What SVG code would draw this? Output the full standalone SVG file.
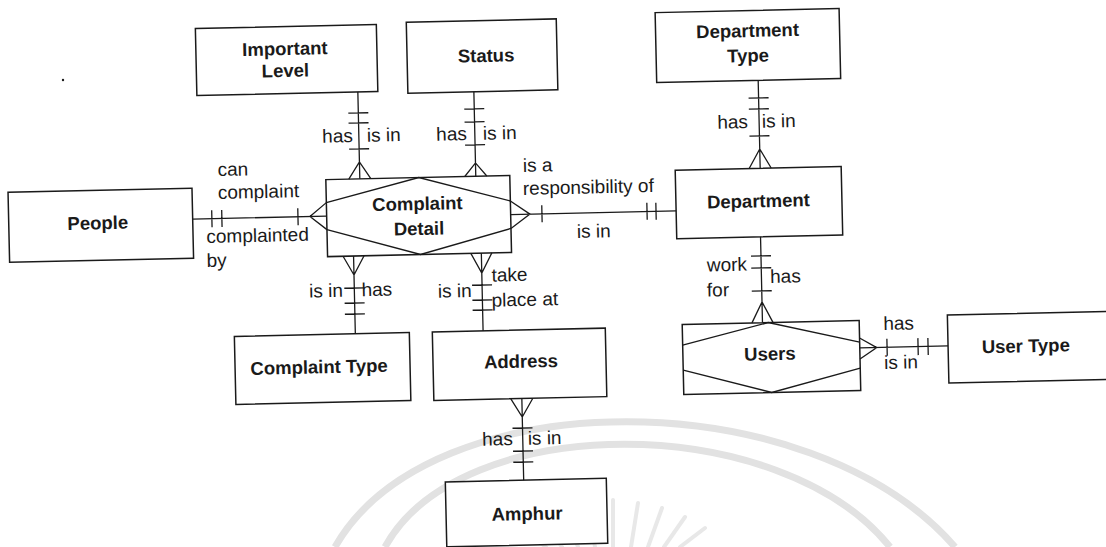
<svg xmlns="http://www.w3.org/2000/svg" width="1106" height="547" viewBox="0 0 1106 547">
<style>
.box{fill:#fff;stroke:#1a1a1a;stroke-width:1.5}
.hex{fill:none;stroke:#1a1a1a;stroke-width:1.4}
.ln{fill:none;stroke:#1a1a1a;stroke-width:1.3}
.t{font-family:"Liberation Sans",Arial,sans-serif;font-weight:bold;font-size:18.5px;fill:#1a1a1a;text-anchor:middle}
.l{font-family:"Liberation Sans",Arial,sans-serif;font-size:19px;fill:#1a1a1a}
.e{text-anchor:end}
.wm{fill:none;stroke:#e2e2e2;stroke-width:7}
.ray{fill:none;stroke:#e8e8e8;stroke-width:4;stroke-linecap:round}
</style>
<rect width="1106" height="547" fill="#fff"/>
<g id="watermark">
<path class="wm" d="M335 547 C430 380 810 380 955 547"/>
<path class="wm" d="M385 547 C460 410 780 410 890 547"/>
<path class="ray" d="M613 500 L613 547 M588 503 L595 547 M638 503 L631 547 M564 508 L578 547 M662 508 L648 547 M541 517 L562 547 M685 517 L664 547 M521 528 L546 547 M705 528 L680 547"/>
</g>
<circle cx="63" cy="80" r="1.2" fill="#1a1a1a"/>
<g transform="rotate(-1.3 553 273)">
<g id="people"><rect class="box" x="10" y="180" width="184" height="70"/><text class="t" x="99" y="219">People</text></g>
<g id="important-level"><rect class="box" x="201" y="20.5" width="181" height="67"/><text class="t" x="290" y="49">Important</text><text class="t" x="290" y="71">Level</text></g>
<g id="status"><rect class="box" x="412" y="19" width="150" height="71"/><text class="t" x="491" y="60.5">Status</text></g>
<g id="department-type"><rect class="box" x="661" y="15" width="184" height="70"/><text class="t" x="753" y="41.5">Department</text><text class="t" x="753" y="66.5">Type</text></g>
<g id="complaint-detail"><rect class="box" x="328" y="174.5" width="184" height="77"/><path class="hex" d="M328 197.5 L421 174.5 L512 200 M512 227.5 L421 251.5 L328 224.5"/><text class="t" x="419" y="207">Complaint</text><text class="t" x="420" y="232">Detail</text></g>
<g id="department"><rect class="box" x="677.5" y="173" width="166" height="68.5"/><text class="t" x="760" y="212">Department</text></g>
<g id="users"><rect class="box" x="681" y="327.4" width="177" height="70"/><path class="hex" d="M681 348 L767 327.4 L858 349 M858 375 L769 397.4 L681 373"/><text class="t" x="768" y="365">Users</text></g>
<g id="user-type"><rect class="box" x="946.3" y="324" width="200" height="68"/><text class="t" x="1024" y="363">User Type</text></g>
<g id="complaint-type"><rect class="box" x="233" y="329.3" width="175" height="68"/><text class="t" x="317" y="368">Complaint Type</text></g>
<g id="address"><rect class="box" x="431" y="329.3" width="173" height="68.5"/><text class="t" x="519" y="367">Address</text></g>
<g id="amphur"><rect class="box" x="440.6" y="479.4" width="161" height="65"/><text class="t" x="521.6" y="519.4">Amphur</text></g>
<g id="connectors">
<path class="ln" d="M194 211 H328 M213.2 202.5 V219.5 M223.2 202.5 V219.5 M299.3 202.5 V219.5 M328 197.5 L311.3 211 L328 224.5"/>
<text class="l" x="220" y="168.5">can</text><text class="l" x="219.7" y="191.4">complaint</text>
<text class="l" x="207.3" y="235.2">complainted</text><text class="l" x="207" y="259.2">by</text>
<path class="ln" d="M362 87.5 V174.5 M352 108.6 H372 M352 118.6 H372 M352 144.6 H372 M351 174.5 L362 157.6 L373 174.5"/>
<text class="l e" x="356" y="137.6">has</text><text class="l" x="370" y="137.6">is in</text>
<path class="ln" d="M478 90 V174.5 M468 107.2 H488 M468 120.2 H488 M468 143.2 H488 M467 174.5 L478 161.2 L489 174.5"/>
<text class="l e" x="470" y="138.2">has</text><text class="l" x="486" y="138.2">is in</text>
<path class="ln" d="M512 213.6 H677.5 M543.3 205 V222 M648.4 205 V222 M657.4 205 V222 M512 200 L531.3 213.6 L512 227.5"/>
<text class="l" x="525.3" y="171.3">is a</text><text class="l" x="524.8" y="194.3">responsibility of</text>
<text class="l" x="577.8" y="238.5">is in</text>
<path class="ln" d="M762.5 85 V173 M752.5 102.7 H772.5 M752.5 113.7 H772.5 M752.5 140.7 H772.5 M751.5 173 L762.5 153.7 L773.5 173"/>
<text class="l e" x="751.3" y="132.5">has</text><text class="l" x="765.3" y="132.5">is in</text>
<path class="ln" d="M761.3 241.5 V327.4 M751.3 260.7 H771.3 M751.3 272.7 H771.3 M751.3 295.7 H771.3 M750.8 327.4 L761.3 306.7 L771.8 327.4"/>
<text class="l" x="707" y="275">work</text><text class="l" x="706.5" y="300">for</text><text class="l" x="770" y="288">has</text>
<path class="ln" d="M858 354.9 H946.3 M885.3 346.4 V363.4 M916.3 346.4 V363.4 M926.3 346.4 V363.4 M858 344.9 L875 354.9 L858 365.9"/>
<text class="l" x="882" y="337.6">has</text><text class="l" x="882" y="376.5">is in</text>
<path class="ln" d="M354 251.5 V329.3 M344 283.5 H364 M344 298.5 H364 M344 309.5 H364 M343.5 251.5 L354 270.5 L364.5 251.5"/>
<text class="l e" x="342.5" y="292">is in</text><text class="l" x="361.2" y="292">has</text>
<path class="ln" d="M481.8 251.5 V329.3 M471.8 283.4 H491.8 M471.8 298.4 H491.8 M471.8 308.4 H491.8 M471.3 251.5 L481.8 271.4 L492.3 251.5"/>
<text class="l e" x="471.2" y="295.1">is in</text><text class="l" x="491.5" y="280.3">take</text><text class="l" x="491" y="305.3">place at</text>
<path class="ln" d="M519 397.8 V479.4 M509 427.3 H529 M509 450.3 H529 M509 461.3 H529 M508 397.8 L519 416.3 L530 397.8"/>
<text class="l e" x="509" y="444.2">has</text><text class="l" x="524" y="444.2">is in</text>
</g>
</g>
</svg>
